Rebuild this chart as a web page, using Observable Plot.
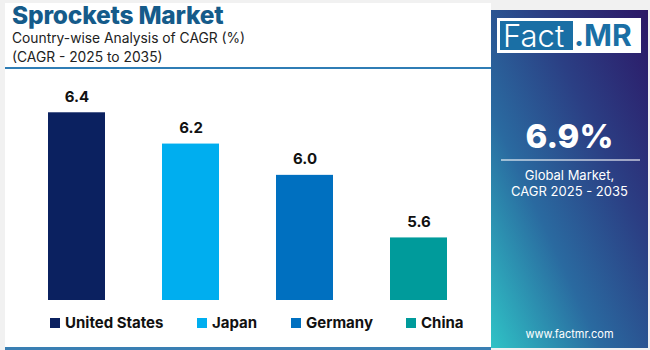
<!DOCTYPE html>
<html>
<head>
<meta charset="utf-8">
<script src="https://cdn.jsdelivr.net/npm/d3@7"></script>
<script src="https://cdn.jsdelivr.net/npm/@observablehq/plot@0.6"></script>
<style>
  html, body { margin: 0; padding: 0; }
  body { width: 650px; height: 350px; background: #f1f1f1; font-family: Inter, "Open Sans", sans-serif; overflow: hidden; }
  #wrap { position: relative; width: 650px; height: 350px; }
  #left { position: absolute; left: 5px; top: 3px; width: 486px; height: 345px; background: #fff; }
  #title { position: absolute; left: 12px; top: 0px; font-size: 24.5px; font-weight: 800; color: #155b8a; letter-spacing: -0.2px; }
  #sub { position: absolute; left: 12px; top: 29px; font-size: 13.8px; line-height: 19px; color: #222; }
  #topline { position: absolute; left: 5px; top: 67px; width: 486px; height: 2px; background: #2f7db5; }
  #botline { position: absolute; left: 5px; top: 347px; width: 486px; height: 3px; background: #3a7fb3; }
  #chart { position: absolute; left: 0; top: 70px; }
  .leg { position: absolute; top: 313px; font-size: 15px; font-weight: 700; color: #111; white-space: nowrap; }
  .leg span.sw { display: inline-block; width: 10px; height: 10px; margin-right: 5px; vertical-align: 0px; }
  #right { position: absolute; left: 491px; top: 10px; width: 157px; height: 338px;
           background: linear-gradient(to bottom left, #2c1766 0%, #2b3f84 35%, #2a6aa0 65%, #2fc3c6 100%); color: #fff; text-align: center; }
  #logo { position: absolute; left: 6px; top: 8px; width: 144px; height: 35px; background: #fff; }
  #fact { position: absolute; left: 3px; top: 3px; width: 73px; height: 29px; background: #1a6fa5; color: #fff; font-size: 31px; line-height: 29px; font-weight: 300; text-align: left; padding-left: 3px; box-sizing: border-box; }
  #mr { position: absolute; left: 77px; top: 3px; height: 29px; color: #1a6fa5; font-size: 30px; line-height: 29px; font-weight: 700; }
  #big { position: absolute; left: 0; width: 157px; top: 106px; font-size: 33px; font-weight: 800; }
  #rline { position: absolute; left: 10px; top: 149px; width: 139px; height: 2px; background: rgba(255,255,255,0.55); }
  #glob { position: absolute; left: 0; width: 157px; top: 157px; font-size: 13px; line-height: 16px; }
  #www { position: absolute; left: 0; width: 157px; top: 317px; font-size: 11px; }
</style>
</head>
<body>
<div id="wrap">
  <div id="left"></div>
  <div id="title">Sprockets Market</div>
  <div id="sub">Country-wise Analysis of CAGR (%)<br>(CAGR - 2025 to 2035)</div>
  <div id="topline"></div>
  <div id="chart"></div>
  <div id="legend"></div>
  <div id="botline"></div>
  <div id="right">
    <div id="logo"><div id="fact">Fact</div><div id="mr">.MR</div></div>
    <div id="big">6.9%</div>
    <div id="rline"></div>
    <div id="glob">Global Market,<br>CAGR 2025 - 2035</div>
    <div id="www">www.factmr.com</div>
  </div>
</div>
<script>
const countries = ["United States", "Japan", "Germany", "China"];
const cagr = [6.4, 6.2, 6.0, 5.6];
const colors = ["#0b2160", "#00aeef", "#0070c0", "#009b9b"];
const yTicks = [5.2, 5.4, 5.6, 5.8, 6.0, 6.2, 6.4, 6.6];
const yMin = 5.2, yMax = 6.6;

const data = countries.map((c, i) => ({country: c, value: cagr[i], color: colors[i]}));

const chart = Plot.plot({
  width: 490,
  height: 240,
  marginTop: 11,
  marginBottom: 10,
  marginLeft: 18,
  marginRight: 13,
  x: {domain: countries, paddingInner: 0.5, paddingOuter: 0.25, axis: null},
  y: {domain: [yMin, yMax], axis: null},
  style: {fontFamily: "Inter, 'Open Sans', sans-serif", background: "transparent"},
  marks: [
    Plot.ruleY(yTicks, {x1: 20, x2: 476, stroke: "#ececec", strokeWidth: 1}),
    Plot.barY(data, {x: "country", y1: yMin, y2: "value", fill: "color"}),
    Plot.text(data, {x: "country", y: "value", text: d => d.value.toFixed(1), dy: -16, fontSize: 15, fontWeight: 700, fill: "#111"})
  ]
});
document.getElementById("chart").appendChild(chart);

const legLeft = [50, 197, 291, 406];
const legend = document.getElementById("legend");
countries.forEach((c, i) => {
  const d = document.createElement("div");
  d.className = "leg";
  d.style.left = legLeft[i] + "px";
  d.innerHTML = `<span class="sw" style="background:${colors[i]}"></span>${c}`;
  legend.appendChild(d);
});
</script>
</body>
</html>
